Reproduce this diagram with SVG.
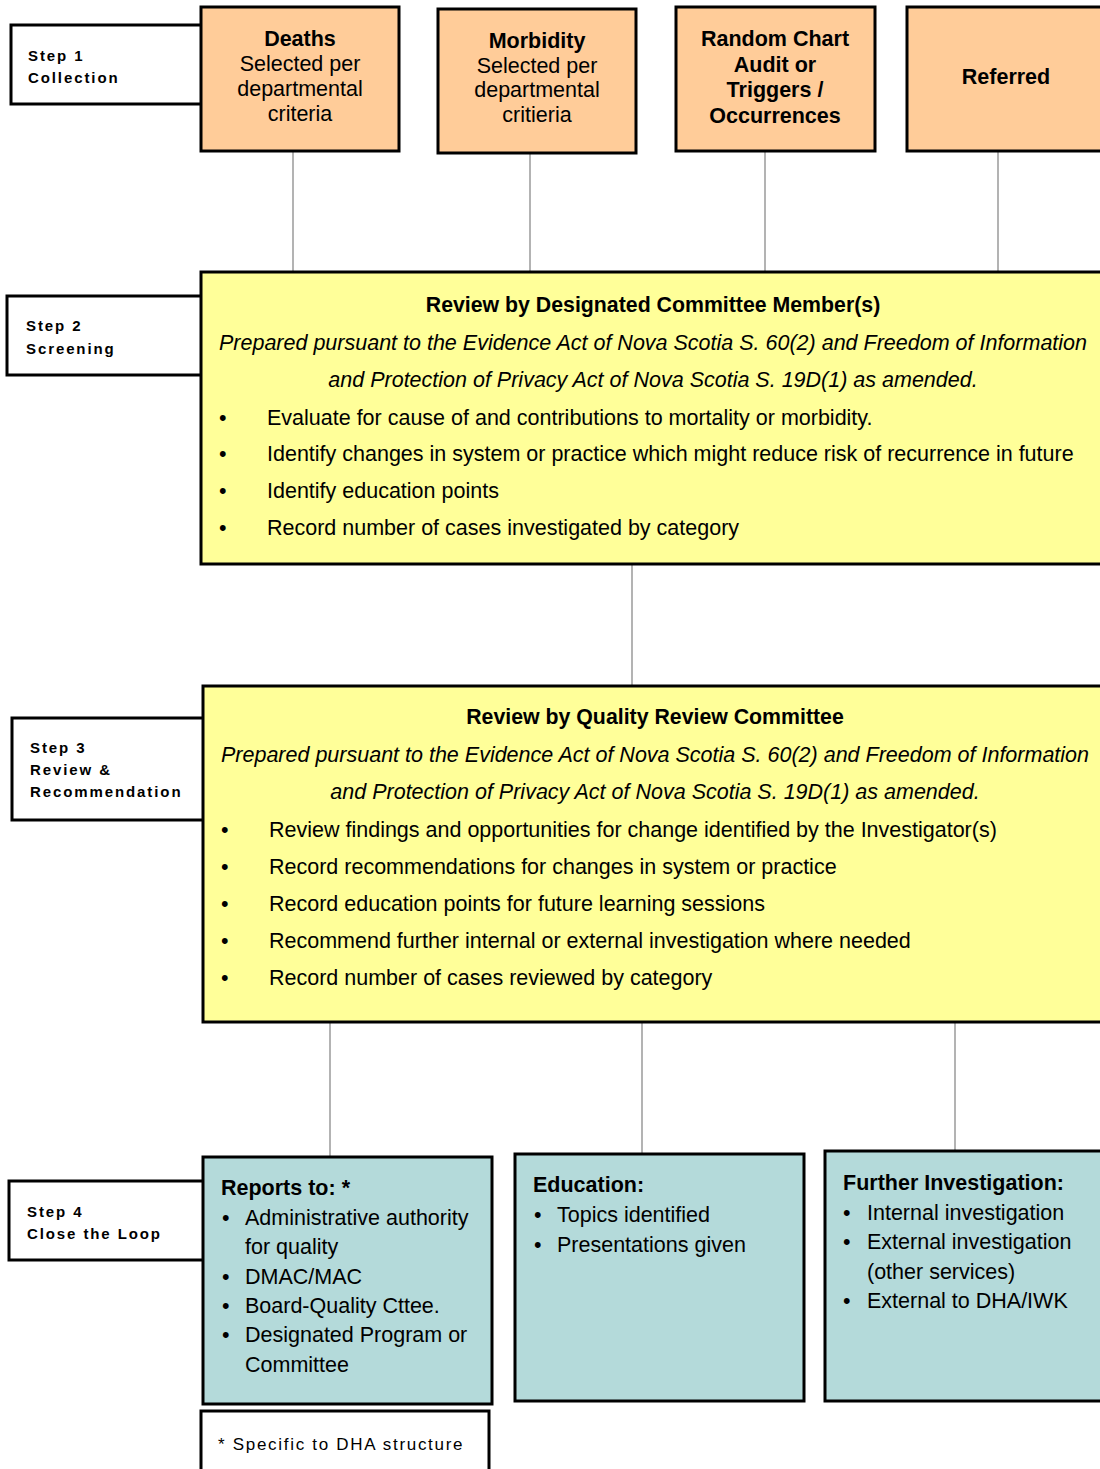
<svg xmlns="http://www.w3.org/2000/svg" width="1100" height="1469" viewBox="0 0 1100 1469">
<style>
.step{fill:#fff;stroke:#000;stroke-width:3}
.org{fill:#FFCC99;stroke:#000;stroke-width:3}
.yel{fill:#FFFF99;stroke:#000;stroke-width:3}
.teal{fill:#B4DADA;stroke:#000;stroke-width:3}
.conn{stroke:#808080;stroke-width:1.2;fill:none}
text{font-family:"Liberation Sans",Arial,sans-serif;fill:#000}
.sl{font-size:15px;font-weight:bold;letter-spacing:1.9px}
.tc{font-size:21.5px;text-anchor:middle}
.b{font-weight:bold}
.t{font-size:21.5px}
.it{font-size:21.5px;font-style:italic;text-anchor:middle}
.hd{font-size:21.3px;font-weight:bold;text-anchor:middle}
.fn{font-size:17px;letter-spacing:1.7px}
</style>
<g id="connectors">
<line class="conn" x1="293" y1="151" x2="293" y2="272"/>
<line class="conn" x1="530" y1="153" x2="530" y2="272"/>
<line class="conn" x1="765" y1="151" x2="765" y2="272"/>
<line class="conn" x1="998" y1="151" x2="998" y2="272"/>
<line class="conn" x1="632" y1="564" x2="632" y2="686"/>
<line class="conn" x1="330" y1="1018" x2="330" y2="1157"/>
<line class="conn" x1="642" y1="1018" x2="642" y2="1154"/>
<line class="conn" x1="955" y1="1018" x2="955" y2="1151"/>
</g>
<g id="step1">
<rect class="step" x="11" y="25" width="192" height="79"/>
<text class="sl" x="28" y="61">Step 1</text>
<text class="sl" x="28" y="83">Collection</text>
</g>
<g id="step2">
<rect class="step" x="7" y="296" width="196" height="79"/>
<text class="sl" x="26" y="331">Step 2</text>
<text class="sl" x="26" y="354">Screening</text>
</g>
<g id="step3">
<rect class="step" x="12" y="718" width="192" height="102"/>
<text class="sl" x="30" y="753">Step 3</text>
<text class="sl" x="30" y="775">Review &amp;</text>
<text class="sl" x="30" y="797">Recommendation</text>
</g>
<g id="step4">
<rect class="step" x="9" y="1181" width="195" height="79"/>
<text class="sl" x="27" y="1217">Step 4</text>
<text class="sl" x="27" y="1239">Close the Loop</text>
</g>
<g id="deaths">
<rect class="org" x="201" y="7" width="198" height="144"/>
<text class="tc b" x="300" y="46">Deaths</text>
<text class="tc" x="300" y="71">Selected per</text>
<text class="tc" x="300" y="96">departmental</text>
<text class="tc" x="300" y="121">criteria</text>
</g>
<g id="morbidity">
<rect class="org" x="438" y="9" width="198" height="144"/>
<text class="tc b" x="537" y="48">Morbidity</text>
<text class="tc" x="537" y="73">Selected per</text>
<text class="tc" x="537" y="97">departmental</text>
<text class="tc" x="537" y="122">critieria</text>
</g>
<g id="random">
<rect class="org" x="676" y="7" width="199" height="144"/>
<text class="tc b" x="775" y="46">Random Chart</text>
<text class="tc b" x="775" y="72">Audit or</text>
<text class="tc b" x="775" y="97">Triggers /</text>
<text class="tc b" x="775" y="123">Occurrences</text>
</g>
<g id="referred">
<rect class="org" x="907" y="7" width="200" height="144"/>
<text class="tc b" x="1006" y="84">Referred</text>
</g>
<g id="screening">
<rect class="yel" x="201" y="272" width="905" height="292"/>
<text class="hd" x="653" y="312">Review by Designated Committee Member(s)</text>
<text class="it" x="653" y="350">Prepared pursuant to the Evidence Act of Nova Scotia S. 60(2) and Freedom of Information</text>
<text class="it" x="653" y="387">and Protection of Privacy Act of Nova Scotia S. 19D(1) as amended.</text>
<text class="t" x="219" y="425">•</text><text class="t" x="267" y="425">Evaluate for cause of and contributions to mortality or morbidity.</text>
<text class="t" x="219" y="461">•</text><text class="t" x="267" y="461">Identify changes in system or practice which might reduce risk of recurrence in future</text>
<text class="t" x="219" y="498">•</text><text class="t" x="267" y="498">Identify education points</text>
<text class="t" x="219" y="535">•</text><text class="t" x="267" y="535">Record number of cases investigated by category</text>
</g>
<g id="review">
<rect class="yel" x="203" y="686" width="903" height="336"/>
<text class="hd" x="655" y="724">Review by Quality Review Committee</text>
<text class="it" x="655" y="762">Prepared pursuant to the Evidence Act of Nova Scotia S. 60(2) and Freedom of Information</text>
<text class="it" x="655" y="799">and Protection of Privacy Act of Nova Scotia S. 19D(1) as amended.</text>
<text class="t" x="221" y="837">•</text><text class="t" x="269" y="837">Review findings and opportunities for change identified by the Investigator(s)</text>
<text class="t" x="221" y="874">•</text><text class="t" x="269" y="874">Record recommendations for changes in system or practice</text>
<text class="t" x="221" y="911">•</text><text class="t" x="269" y="911">Record education points for future learning sessions</text>
<text class="t" x="221" y="948">•</text><text class="t" x="269" y="948">Recommend further internal or external investigation where needed</text>
<text class="t" x="221" y="985">•</text><text class="t" x="269" y="985">Record number of cases reviewed by category</text>
</g>
<g id="reports">
<rect class="teal" x="203" y="1157" width="289" height="247"/>
<text class="t b" x="221" y="1195">Reports to: *</text>
<text class="t" x="222" y="1225">•</text><text class="t" x="245" y="1225">Administrative authority</text>
<text class="t" x="245" y="1254">for quality</text>
<text class="t" x="222" y="1284">•</text><text class="t" x="245" y="1284">DMAC/MAC</text>
<text class="t" x="222" y="1313">•</text><text class="t" x="245" y="1313">Board-Quality Cttee.</text>
<text class="t" x="222" y="1342">•</text><text class="t" x="245" y="1342">Designated Program or</text>
<text class="t" x="245" y="1372">Committee</text>
</g>
<g id="education">
<rect class="teal" x="515" y="1154" width="289" height="247"/>
<text class="t b" x="533" y="1192">Education:</text>
<text class="t" x="534" y="1222">•</text><text class="t" x="557" y="1222">Topics identified</text>
<text class="t" x="534" y="1252">•</text><text class="t" x="557" y="1252">Presentations given</text>
</g>
<g id="further">
<rect class="teal" x="825" y="1151" width="282" height="250"/>
<text class="t b" x="843" y="1190">Further Investigation:</text>
<text class="t" x="843" y="1220">•</text><text class="t" x="867" y="1220">Internal investigation</text>
<text class="t" x="843" y="1249">•</text><text class="t" x="867" y="1249">External investigation</text>
<text class="t" x="867" y="1279">(other services)</text>
<text class="t" x="843" y="1308">•</text><text class="t" x="867" y="1308">External to DHA/IWK</text>
</g>
<g id="footnote">
<rect class="step" x="201" y="1411" width="288" height="62"/>
<text class="fn" x="218" y="1450">* Specific to DHA structure</text>
</g>
</svg>
